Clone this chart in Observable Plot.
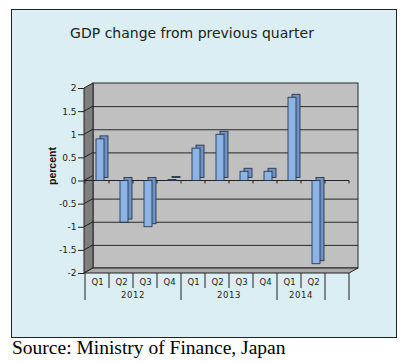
<!DOCTYPE html>
<html><head><meta charset="utf-8">
<script src="https://cdn.jsdelivr.net/npm/d3@7"></script>
<script src="https://cdn.jsdelivr.net/npm/@observablehq/plot@0.6"></script>
<style>
body{margin:0;background:#fff;}
#wrap{position:relative;width:409px;height:363px;overflow:hidden;}
#box{position:absolute;left:11px;top:9px;width:384px;height:327px;background:#DBEEF4;border:1px solid #222;}
#chart{position:absolute;left:0;top:0;}
#src{position:absolute;left:12px;top:337px;font:19.5px "Liberation Serif",serif;color:#000;white-space:nowrap;}
</style></head><body>
<div id="wrap"><div id="box"></div><div id="chart"></div><div id="src">Source: Ministry of Finance, Japan</div></div>
<script>
// ---- data ----
const years = ["2012","2012","2012","2012","2013","2013","2013","2013","2014","2014",""];
const quarters = ["Q1","Q2","Q3","Q4","Q1","Q2","Q3","Q4","Q1","Q2",""];
const values = [0.9,-0.9,-1.0,0.02,0.7,1.0,0.2,0.2,1.8,-1.8,null];
const yTicks = [-2,-1.5,-1,-0.5,0,0.5,1,1.5,2];
const title = "GDP change from previous quarter";
const yLabel = "percent";

const keys = years.map((y,i) => y + "-" + quarters[i] + "-" + i);
const rows = keys.map((k,i) => ({key:k, year:years[i], quarter:quarters[i], value:values[i]}));
const bars = rows.filter(d => d.value != null);

const DX = 9, DY = -5;
const W = 409, H = 338;

function backWall(index, scales, values, dim) {
  const g = d3.create("svg:g");
  const L = dim.marginLeft, R = dim.width - dim.marginRight, T = dim.marginTop, B = dim.height - dim.marginBottom;
  g.append("rect").attr("x", L + DX).attr("y", T + DY).attr("width", R - L).attr("height", B - T)
    .attr("fill", "#c0c0c0").attr("stroke", "#2a2a2a");
  return g.node();
}

function sideAndFloor(index, scales, values, dim) {
  const {x, y} = scales;
  const g = d3.create("svg:g");
  const L = dim.marginLeft, R = dim.width - dim.marginRight, T = dim.marginTop, B = dim.height - dim.marginBottom;
  // left wall
  g.append("path").attr("d", `M${L},${T}L${L+DX},${T+DY}L${L+DX},${B+DY}L${L},${B}Z`)
    .attr("fill", "#7f7f7f").attr("stroke", "#222");
  // diagonals on left wall
  for (const t of yTicks) {
    if (Math.abs(t) === 2) continue;
    g.append("line").attr("x1", L).attr("y1", y(t)).attr("x2", L + DX).attr("y2", y(t) + DY)
      .attr("stroke", "#222");
  }
  // floor
  g.append("path").attr("d", `M${L},${B}L${R},${B}L${R+DX},${B+DY}L${L+DX},${B+DY}Z`)
    .attr("fill", "#a9a9a9").attr("stroke", "#222");
  // front zero line with ticks
  const y0 = y(0);
  g.append("line").attr("x1", L).attr("x2", R).attr("y1", y0).attr("y2", y0).attr("stroke", "#222");
  const bounds = keys.map(k => x(k)).concat([R]);
  for (const bx of bounds) {
    g.append("line").attr("x1", bx).attr("x2", bx).attr("y1", y0).attr("y2", y0 + 3).attr("stroke", "#222");
  }
  // category separators below floor
  keys.forEach((k, i) => {
    const long = i === 0 || years[i] !== years[i-1];
    g.append("line").attr("x1", x(k)).attr("x2", x(k)).attr("y1", B).attr("y2", B + (long ? 27 : 15))
      .attr("stroke", "#222");
  });
  g.append("line").attr("x1", R).attr("x2", R).attr("y1", B).attr("y2", B + 27).attr("stroke", "#222");
  // year labels
  const bw = x.bandwidth();
  for (const [yr, ks] of d3.groups(rows, d => d.year)) {
    if (!yr) continue;
    const cx = (x(ks[0].key) + x(ks[ks.length-1].key) + bw) / 2;
    g.append("text").attr("x", cx).attr("y", B + 22).attr("dy", "0.32em")
      .attr("text-anchor", "middle").attr("font-size", 8.5).attr("letter-spacing", 0.6)
      .attr("fill", "#222").text(yr);
  }
  return g.node();
}

const chart = Plot.plot({
  width: W, height: H,
  marginLeft: 84, marginRight: 60, marginTop: 88, marginBottom: H - 273,
  style: {background: "transparent", fontFamily: "DejaVu Sans", fontSize: "9px", color: "#222", overflow: "visible"},
  x: {domain: keys, padding: 0, axis: null},
  y: {domain: [-2, 2], ticks: yTicks, tickSize: 6, tickPadding: 2, tickFormat: d => String(d), label: null},
  marks: [
    backWall,
    Plot.ruleY(yTicks.filter(t => Math.abs(t) !== 2 && t !== 0), {dx: DX, dy: DY, stroke: "#2a2a2a"}),
    sideAndFloor,
    Plot.barY(bars, {x: "key", y: "value", insetLeft: 11, insetRight: 5, dx: 4, dy: -3,
      fill: "#6F93C4", stroke: "#1a2a40", strokeWidth: 0.8}),
    Plot.barY(bars, {x: "key", y: "value", insetLeft: 11, insetRight: 5,
      fill: "#8DB4E2", stroke: "#1a2a40", strokeWidth: 0.8}),
    Plot.text(bars, {x: "key", text: "quarter", frameAnchor: "bottom", lineAnchor: "middle", dy: 9,
      fontSize: 8.5, letterSpacing: 0.5, fill: "#222"}),
    Plot.text([title], {text: d => d, frameAnchor: "top", lineAnchor: "middle", dx: -25, dy: -55,
      fontSize: 14, fill: "#222"}),
    Plot.text([yLabel], {text: d => d, frameAnchor: "left", textAnchor: "middle", lineAnchor: "middle",
      rotate: -90, dx: -32, dy: -15, fontSize: 10.5, fontWeight: "bold", fontFamily: "Liberation Sans", fill: "#111"})
  ]
});
document.getElementById("chart").appendChild(chart);
</script>
</body></html>
